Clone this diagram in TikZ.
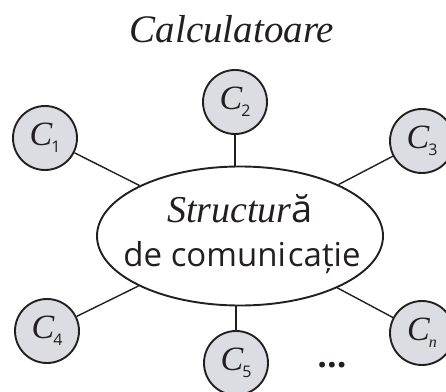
\documentclass[tikz,border=0pt]{standalone}
\usepackage{fontspec}
\setmainfont{Liberation Serif}
\setsansfont{Open Sans}
\usetikzlibrary{shapes.geometric}
\definecolor{ink}{HTML}{231F20}
\definecolor{cfill}{HTML}{DCDDE2}
\newcommand\cmp[1]{{\rmfamily\fontsize{34}{34}\selectfont\itshape C}\kern-1pt\raisebox{-7pt}{\sffamily\fontsize{16}{16}\selectfont #1}}
\begin{document}
\begin{tikzpicture}[x=1pt,y=1pt,
  comp/.style={circle,draw=ink,fill=cfill,line width=1.9pt,minimum size=64pt,inner sep=0pt,text=ink},
  link/.style={draw=ink,line width=1.4pt},
  struct/.style={ellipse,draw=ink,line width=1.9pt,minimum width=286pt,minimum height=139pt,inner sep=0pt}]
\useasboundingbox (0,0) rectangle (446,391);
\node[font=\fontsize{39}{39}\selectfont\itshape,anchor=base,text=ink] (title) at (232,348) {Calculatoare};
\node[struct] (s) at (240,155) {};
\node[anchor=base,text=ink] (l1) at (240,169) {\fontsize{38}{38}\selectfont{\itshape Structur}{\sffamily ă}};
\node[anchor=base,font=\sffamily\fontsize{33}{33}\selectfont,text=ink] (l2) at (242,125) {de comuni\kern2pt cație};
\node[comp] (c1) at (45,253) {\cmp{1}};
\node[comp] (c2) at (235,289) {\cmp{2}};
\node[comp] (c3) at (422,250) {\cmp{3}};
\node[comp] (c4) at (47,60) {\cmp{4}};
\node[comp] (c5) at (236,28) {\cmp{5}};
\node[comp] (cn) at (422,58) {\cmp{\rmfamily\itshape n}};
\node[font=\sffamily\bfseries\fontsize{34}{34}\selectfont,anchor=base,text=ink] (dots) at (332,24) {...};
\draw[link] (c1) -- (s);
\draw[link] (c2) -- (c2 |- s.north);
\draw[link] (c3) -- (s);
\draw[link] (c4) -- (s);
\draw[link] (c5) -- (c5 |- s.south);
\draw[link] (cn) -- (s);
\end{tikzpicture}
\end{document}
